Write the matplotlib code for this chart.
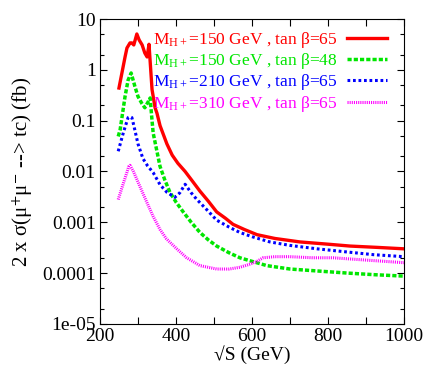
import numpy as np
import matplotlib
matplotlib.use('Agg')
import matplotlib.pyplot as plt
from matplotlib.ticker import MultipleLocator, LogLocator, FuncFormatter, NullFormatter

plt.rcParams['font.family'] = ['Liberation Serif', 'DejaVu Serif']
plt.rcParams['mathtext.fontset'] = 'stix'

# sqrt(S) in GeV, cross section in fb
s_red = [250, 266, 271, 279, 284, 289, 297, 303, 311, 318, 324, 329, 337, 345, 350, 358,
         376, 390, 405, 424, 445, 463, 485, 507, 530, 550, 580, 613, 660, 726, 800, 858, 930, 1000]
y_red = [0.44, 1.8, 2.7, 3.4, 3.4, 3.1, 5.1, 3.9, 3.1, 2.15, 1.8, 3.2, 0.41, 0.18, 0.14, 0.08,
         0.035, 0.021, 0.0145, 0.01, 0.0062, 0.0041, 0.0026, 0.0016, 0.0012, 0.00091, 0.00072, 0.00057,
         0.00048, 0.00041, 0.00037, 0.00034, 0.00032, 0.0003]

s_green = [248, 253, 266, 274, 282, 292, 300, 310, 318, 326, 332, 337, 340, 358, 370, 384, 400,
           419, 440, 463, 485, 507, 540, 568, 600, 639, 700, 771, 850, 920, 1000]
y_green = [0.049, 0.066, 0.3, 0.63, 0.87, 0.47, 0.3, 0.22, 0.18, 0.23, 0.28, 0.1, 0.057, 0.0126,
           0.007, 0.0039, 0.0025, 0.0016, 0.001, 0.00063, 0.00045, 0.00034, 0.00025, 0.0002,
           0.00017, 0.00014, 0.00012, 0.00011, 0.0001, 0.000093, 0.000087]

s_blue = [248, 262, 274, 279, 284, 290, 300, 313, 325, 340, 358, 376, 397, 410, 424, 440, 455,
          480, 507, 540, 568, 600, 647, 700, 771, 850, 920, 1000]
y_blue = [0.025, 0.06, 0.115, 0.12, 0.115, 0.075, 0.035, 0.018, 0.013, 0.0095, 0.0055, 0.0039,
          0.0031, 0.0038, 0.0056, 0.0038, 0.0028, 0.0018, 0.0011, 0.0008, 0.00063, 0.00052,
          0.00041, 0.00035, 0.0003, 0.00026, 0.00023, 0.00021]

s_mag = [248, 262, 276, 279, 288, 305, 323, 340, 358, 375, 402, 428, 463, 507, 540, 568, 595,
         613, 629, 660, 700, 760, 813, 900, 1000]
y_mag = [0.0028, 0.006, 0.0126, 0.0132, 0.01, 0.0051, 0.0025, 0.0013, 0.00072, 0.00047, 0.0003,
         0.0002, 0.00014, 0.00012, 0.00012, 0.00013, 0.00015, 0.00017, 0.0002, 0.00021, 0.00021,
         0.0002, 0.0002, 0.00018, 0.00016]

labels = [r'M$_{\mathregular{H+}}$=150 GeV , tan β=65',
          r'M$_{\mathregular{H+}}$=150 GeV , tan β=48',
          r'M$_{\mathregular{H+}}$=210 GeV , tan β=65',
          r'M$_{\mathregular{H+}}$=310 GeV , tan β=65']

fig = plt.figure(figsize=(4.29, 3.68), dpi=100)
ax = fig.add_axes([0.233, 0.12, 0.709, 0.828])

ax.plot(s_red, y_red, color='#ff0000', lw=2.4, label=labels[0])
ax.plot(s_green, y_green, color='#00e600', lw=2.5, linestyle=(0, (1.2, 0.6)), label=labels[1])
ax.plot(s_blue, y_blue, color='#0000ff', lw=2.2, linestyle=(0, (0.9, 0.9)), label=labels[2])
ax.plot(s_mag, y_mag, color='#ff00ff', lw=2.2, linestyle=(0, (0.35, 0.35)), label=labels[3])

ax.set_yscale('log')
ax.set_xlim(200, 1000)
ax.set_ylim(1e-5, 10)

ax.xaxis.set_major_locator(MultipleLocator(200))
ax.xaxis.set_minor_locator(MultipleLocator(100))
ax.yaxis.set_major_locator(LogLocator(base=10, numticks=20))
ax.yaxis.set_minor_locator(LogLocator(base=10, subs=(2, 5), numticks=20))
ax.yaxis.set_major_formatter(FuncFormatter(lambda v, p: '%g' % v))
ax.yaxis.set_minor_formatter(NullFormatter())

ax.tick_params(which='both', direction='in', top=True, right=True, labelsize=14, pad=3)
ax.tick_params(which='major', length=5, width=0.8)
ax.tick_params(which='minor', axis='x', length=5, width=0.8)
ax.tick_params(which='minor', axis='y', length=3, width=0.8)

ax.set_xlabel('√S (GeV)', fontsize=14, labelpad=0)
ax.set_ylabel(r'2 x σ(μ$^{+}$μ$^{-}$ --> tc) (fb)', fontsize=15, labelpad=5)

ax.legend(loc='upper right', bbox_to_anchor=(0.956, 0.977), frameon=False, markerfirst=False,
          labelcolor='linecolor', fontsize=12.5, handlelength=2.3, handletextpad=0.55,
          labelspacing=0.08, borderaxespad=0, borderpad=0.2)

fig.savefig('out.png', dpi=100)
